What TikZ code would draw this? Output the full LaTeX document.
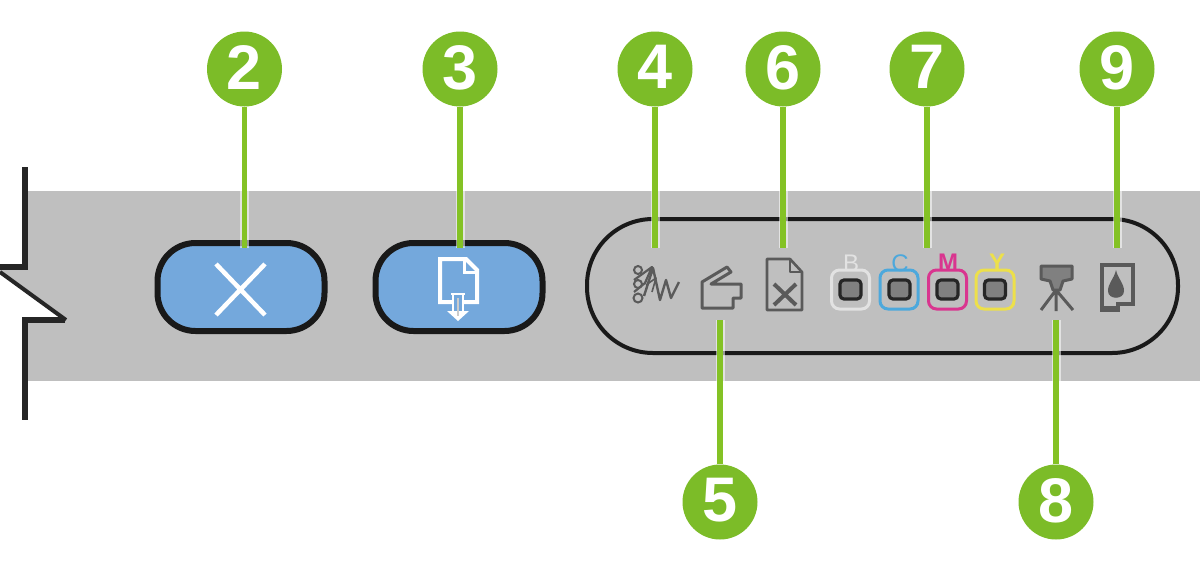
\documentclass[tikz,border=0pt]{standalone}
\usepackage{fontspec}
\setmainfont{Liberation Sans}
\definecolor{leafgreen}{HTML}{7CBC28}
\definecolor{wiregreen}{HTML}{84C225}
\definecolor{bandgray}{HTML}{BFBFBF}
\definecolor{btnblue}{HTML}{74A8DC}
\definecolor{iconink}{HTML}{5A5A5A}
\definecolor{inkC}{HTML}{4CA8DC}
\definecolor{inkM}{HTML}{D9358F}
\definecolor{inkY}{HTML}{EDE04A}
\definecolor{inkB}{HTML}{E2E2E2}
\pgfdeclarelayer{panel}
\pgfdeclarelayer{wires}
\pgfsetlayers{panel,wires,main}
\tikzset{
  callout/.style={circle,fill=leafgreen,minimum size=75pt,inner sep=0pt,text=white,font=\fontsize{63}{63}\selectfont\bfseries},
  halo/.style={white,opacity=.55,line width=9pt},
  leader/.style={wiregreen,line width=5.5pt},
  pill/.style={rounded corners=38pt,draw=black!90,line width=6pt,fill=btnblue,minimum width=167pt,minimum height=88pt,inner sep=0pt},
  lampbox/.style={rounded corners=8pt,line width=3pt,minimum width=38pt,minimum height=39pt,inner sep=0pt,fill=bandgray},
  lamp/.style={rounded corners=4pt,draw=black!85,line width=3.2pt,fill=black!50,minimum width=21pt,minimum height=19pt,inner sep=0pt},
  lampname/.style={font=\fontsize{24}{24}\selectfont},
  icon/.style={draw=iconink,line width=3pt,line join=round},
  breakline/.style={draw=black!85,line width=5.5pt,line join=miter},
}
\newcommand{\dg}[1]{\raisebox{3.5pt}{#1}}
\begin{document}
\begin{tikzpicture}[x=1pt,y=-1pt]
\useasboundingbox (0,0) rectangle (1200,574);
\begin{pgfonlayer}{panel}
\fill[white] (0,0) rectangle (1200,574);
% band
\fill[bandgray] (25,191) rectangle (1200,381);
\fill[bandgray] (0,267) rectangle (25,300);
\fill[white] (0,272) -- (66,320) -- (25,320) -- (25,355) -- (0,355) -- cycle;
% break line
\draw[breakline] (25,167) -- (25,267) -- (0,267);
\draw[black!85,line width=4pt] (0,272) -- (66,320);
\draw[breakline] (65,320) -- (25,320) -- (25,420);
% panel ring
\node[draw=black!90,line width=4pt,rounded corners=66pt,minimum width=591pt,minimum height=134pt,inner sep=0pt] (ring) at (882.5,286) {};
% buttons
\node[pill] (btnX) at (241,287) {};
\node[pill] (btnDoc) at (459,287) {};
\end{pgfonlayer}
% callouts
\node[callout] (c2) at (244.5,69) {\dg{2}};
\node[callout] (c3) at (460,69) {\dg{3}};
\node[callout] (c4) at (655,69) {\dg{4}};
\node[callout] (c6) at (783,69) {\dg{6}};
\node[callout] (c7) at (927,69) {\dg{7}};
\node[callout] (c9) at (1117,69) {\dg{9}};
\node[callout] (c5) at (720,502) {\dg{5}};
\node[callout] (c8) at (1056,502) {\dg{8}};
\coordinate (e2) at (244.5,248);
\coordinate (e3) at (460,248);
\coordinate (e4) at (655,248);
\coordinate (e6) at (783,248);
\coordinate (e7) at (927,248);
\coordinate (e9) at (1117,248);
\coordinate (e5) at (720,320);
\coordinate (e8) at (1056,320);
\begin{pgfonlayer}{wires}
\foreach \c/\e in {c2/e2,c3/e3,c4/e4,c6/e6,c7/e7,c9/e9,c5/e5,c8/e8}{
  \draw[halo] (\c) -- (\e);
  \draw[leader] (\c) -- (\e);
}
\end{pgfonlayer}
% button glyphs
\draw[white,line width=4.5pt] (216,264) -- (265,315) (265,264) -- (216,315);
\draw[white,line width=4pt,line join=miter] (452,302) -- (440,302) -- (440,259) -- (466,259) -- (477,270) -- (477,302) -- (464,302);
\draw[white,line width=3pt] (464,259) -- (464,272) -- (477,272);
\draw[white,line width=2.5pt] (453,302) -- (453,312) (463,302) -- (463,312) (451,294) -- (465,294) (453,294) -- (453,303) (463,294) -- (463,303);
\fill[white] (447,311) -- (469,311) -- (458,321) -- cycle;
\draw[black!20,line width=1.2pt] (458,298) -- (458,316);
% wave icon
\draw[iconink,line width=2pt] (638,270) circle (4) (638,284) circle (4) (638,298) circle (4.5);
\draw[iconink,line width=2.2pt,line join=round] (634,280) -- (652,267) -- (645,283) -- (634,292);
\draw[iconink,line width=2.4pt,line join=round] (644,296) -- (653,268) -- (660,300) -- (666,280) -- (671,298) -- (679,282);
\draw[iconink,line width=1.6pt,line join=round] (646,285) -- (656,278) -- (652,292);
% scanner icon
\draw[icon] (702,308) -- (702,282) -- (727,267) -- (731,272) -- (711,284) -- (741,284) -- (741,298) -- (733,298) -- (733,308) -- cycle;
% document with X
\draw[icon,line width=2.6pt] (767,259) -- (790,259) -- (802,272) -- (802,310) -- (767,310) -- cycle;
\draw[icon,line width=2pt] (790,259) -- (790,272) -- (802,272);
\draw[iconink,line width=4pt] (774,284) -- (796,305) (796,284) -- (774,305);
% lamps
\node[lampbox,draw=inkB] (boxB) at (850.5,289.5) {};
\node[lampbox,draw=inkC] (boxC) at (899,289.5) {};
\node[lampbox,draw=inkM] (boxM) at (947.5,289.5) {};
\node[lampbox,draw=inkY] (boxY) at (995,289.5) {};
\node[lamp] (lampB) at (850.5,289.5) {};
\node[lamp] (lampC) at (899.5,289.5) {};
\node[lamp] (lampM) at (947.5,289.5) {};
\node[lamp] (lampY) at (995,289.5) {};
\node[lampname,text=inkB] (nameB) at (851,263) {B};
\node[lampname,text=inkC] (nameC) at (900,263) {C};
\node[lampname,text=inkM,font=\fontsize{24}{24}\selectfont\bfseries] (nameM) at (948,262) {M};
\node[lampname,text=inkY,font=\fontsize{24}{24}\selectfont\bfseries] (nameY) at (997,262) {Y};
% tripod icon
\draw[icon,fill=black!50] (1041,266) -- (1072,266) -- (1072,279) -- (1063,281) -- (1060,290) -- (1053,290) -- (1050,281) -- (1041,279) -- cycle;
\draw[iconink,line width=3pt] (1056,290) -- (1041,310) (1056,290) -- (1056,311) (1056,290) -- (1073,310);
% ink icon
\draw[icon,line width=3.4pt,line join=miter] (1102,310) -- (1102,265) -- (1133,265) -- (1133,304) -- (1118,304) -- (1118,310) -- cycle;
\fill[iconink] (1102,306) rectangle (1118,311);
\fill[iconink] (1116,270) .. controls (1118,279) and (1124,283) .. (1124,291) .. controls (1124,300) and (1108,300) .. (1108,291) .. controls (1108,283) and (1114,279) .. (1116,270) -- cycle;
\end{tikzpicture}
\end{document}
